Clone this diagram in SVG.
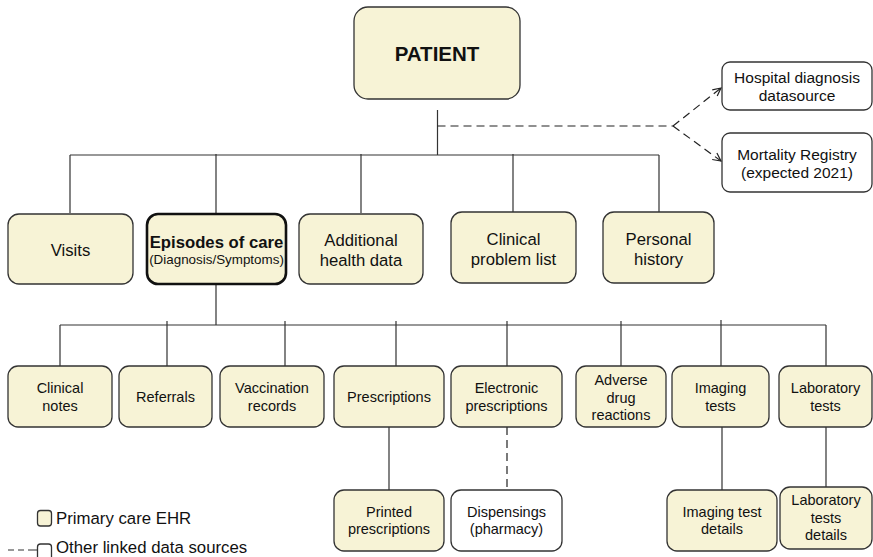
<svg xmlns="http://www.w3.org/2000/svg" width="873" height="557" viewBox="0 0 873 557">
<style>
text{font-family:"Liberation Sans",Arial,Helvetica,sans-serif;fill:#111;text-anchor:middle}
.box{fill:#f7f3d6;stroke:#333;stroke-width:1.3}
.ext{fill:#fff;stroke:#333;stroke-width:1.3}
.bold{fill:#f7f3d6;stroke:#111;stroke-width:2.6}
.ln{fill:none;stroke:#333;stroke-width:1.2}
.dash{fill:none;stroke:#222;stroke-width:1.2;stroke-dasharray:8 5}
.m{font-size:16.7px}
.s{font-size:14.5px}
.r{font-size:15.5px}
</style>
<defs>
<marker id="arr" viewBox="0 0 10 10" refX="9" refY="5" markerWidth="10" markerHeight="10" markerUnits="userSpaceOnUse" orient="auto">
<path d="M1,1 L9,5 L1,9" fill="none" stroke="#222" stroke-width="1.2"/>
</marker>
</defs>
<g id="connectors">
<path class="ln" d="M437.5,110 V155 M70,155 H659 M70,155 V213 M216,154 V213 M361,154 V213 M513,154 V213 M659,155 V213"/>
<path class="dash" d="M437.5,126 H673"/>
<path class="dash" d="M673,126 L721,88" marker-end="url(#arr)"/>
<path class="dash" d="M673,126 L721,161" marker-end="url(#arr)"/>
<path class="ln" d="M216,284 V325 M60,325 H826 M60,325 V366 M167,321 V366 M285,321 V366 M396,321 V366 M507,321 V366 M621,321 V366 M721,320 V366 M826,325 V366"/>
<path class="ln" d="M389,427 V490 M722,427 V490 M826,427 V487"/>
<path class="dash" d="M507,427 V490"/>
</g>
<g id="patient">
<rect class="box" x="354" y="7" width="166" height="92" rx="14"/>
<text x="437" y="61" style="font-size:20.5px;font-weight:bold">PATIENT</text>
</g>
<g id="hospital">
<rect class="ext" x="722" y="62" width="150" height="48" rx="8"/>
<text class="r" x="797" y="83">Hospital diagnosis</text>
<text class="r" x="797" y="101">datasource</text>
</g>
<g id="mortality">
<rect class="ext" x="722" y="133" width="150" height="59" rx="8"/>
<text class="r" x="797" y="160">Mortality Registry</text>
<text class="r" x="797" y="178">(expected 2021)</text>
</g>
<g id="visits">
<rect class="box" x="8" y="214" width="125" height="70" rx="11"/>
<text class="m" x="70.5" y="255.5">Visits</text>
</g>
<g id="episodes">
<rect class="bold" x="147" y="214" width="139" height="70" rx="11"/>
<text class="m" x="216.5" y="248" style="font-weight:bold">Episodes of care</text>
<text x="216.5" y="264" style="font-size:13.4px">(Diagnosis/Symptoms)</text>
</g>
<g id="additional">
<rect class="box" x="299" y="214" width="124" height="70" rx="11"/>
<text class="m" x="361" y="245.5">Additional</text>
<text class="m" x="361" y="265.5">health data</text>
</g>
<g id="problemlist">
<rect class="box" x="451" y="212" width="125" height="71" rx="11"/>
<text class="m" x="513.5" y="245">Clinical</text>
<text class="m" x="513.5" y="265">problem list</text>
</g>
<g id="personal">
<rect class="box" x="603" y="212" width="111" height="71" rx="11"/>
<text class="m" x="658.5" y="245">Personal</text>
<text class="m" x="658.5" y="265">history</text>
</g>
<g id="clinicalnotes">
<rect class="box" x="8" y="366" width="104" height="61" rx="10"/>
<text class="s" x="60" y="393">Clinical</text>
<text class="s" x="60" y="410.5">notes</text>
</g>
<g id="referrals">
<rect class="box" x="119" y="366" width="93" height="61" rx="10"/>
<text class="s" x="165.5" y="402">Referrals</text>
</g>
<g id="vaccination">
<rect class="box" x="220" y="366" width="104" height="61" rx="10"/>
<text class="s" x="272" y="393">Vaccination</text>
<text class="s" x="272" y="410.5">records</text>
</g>
<g id="prescriptions">
<rect class="box" x="334" y="366" width="110" height="61" rx="10"/>
<text class="s" x="389" y="402">Prescriptions</text>
</g>
<g id="electronic">
<rect class="box" x="451" y="366" width="111" height="61" rx="10"/>
<text class="s" x="506.5" y="393">Electronic</text>
<text class="s" x="506.5" y="410.5">prescriptions</text>
</g>
<g id="adverse">
<rect class="box" x="576" y="366" width="90" height="61" rx="10"/>
<text class="s" x="621" y="385">Adverse</text>
<text class="s" x="621" y="402.5">drug</text>
<text class="s" x="621" y="420">reactions</text>
</g>
<g id="imaging">
<rect class="box" x="672" y="366" width="97" height="61" rx="10"/>
<text class="s" x="720.5" y="393">Imaging</text>
<text class="s" x="720.5" y="410.5">tests</text>
</g>
<g id="laboratory">
<rect class="box" x="779" y="366" width="93" height="61" rx="10"/>
<text class="s" x="825.5" y="393">Laboratory</text>
<text class="s" x="825.5" y="410.5">tests</text>
</g>
<g id="printed">
<rect class="box" x="334" y="490" width="110" height="61" rx="10"/>
<text class="s" x="389" y="516.7">Printed</text>
<text class="s" x="389" y="534.2">prescriptions</text>
</g>
<g id="dispensings">
<rect class="ext" x="451" y="490" width="111" height="61" rx="10"/>
<text class="s" x="506.5" y="516.7">Dispensings</text>
<text class="s" x="506.5" y="534.2">(pharmacy)</text>
</g>
<g id="imagingdetails">
<rect class="box" x="667" y="490" width="110" height="61" rx="10"/>
<text class="s" x="722" y="516.7">Imaging test</text>
<text class="s" x="722" y="534.2">details</text>
</g>
<g id="labdetails">
<rect class="box" x="780" y="487" width="92" height="62" rx="10"/>
<text class="s" x="826" y="505">Laboratory</text>
<text class="s" x="826" y="522.5">tests</text>
<text class="s" x="826" y="540">details</text>
</g>
<g id="legend">
<rect class="box" x="37.5" y="510.5" width="14" height="15.5" rx="3"/>
<text x="56" y="523.5" style="font-size:16.8px;text-anchor:start">Primary care EHR</text>
<path class="ln" d="M8,550 H14 M18,550 H24 M28,550 H37.5"/>
<rect class="ext" x="37.5" y="544" width="14" height="16" rx="3"/>
<text x="56" y="552.5" style="font-size:16.8px;text-anchor:start">Other linked data sources</text>
</g>
</svg>
